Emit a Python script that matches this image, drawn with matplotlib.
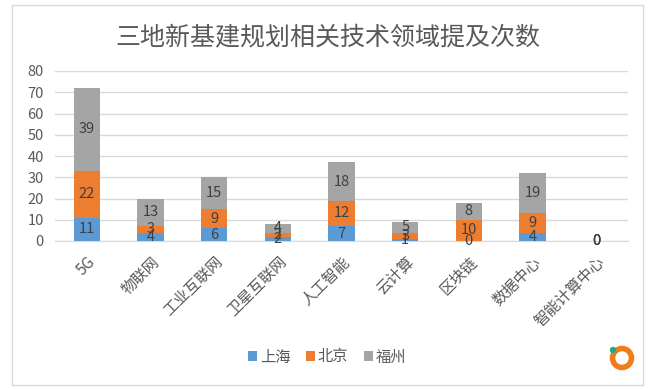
import matplotlib
matplotlib.use("Agg")
import matplotlib.pyplot as plt
from matplotlib.patches import Rectangle, Circle
import numpy as np

plt.rcParams['font.family'] = ['Noto Sans CJK SC', 'DejaVu Sans']

categories = ["5G", "物联网", "工业互联网", "卫星互联网", "人工智能", "云计算", "区块链", "数据中心", "智能计算中心"]
shanghai = [11, 4, 6, 2, 7, 1, 0, 4, 0]
beijing = [22, 3, 9, 2, 12, 3, 10, 9, 0]
fuzhou = [39, 13, 15, 4, 18, 5, 8, 19, 0]
series_names = ["上海", "北京", "福州"]
colors = ["#5B9BD5", "#ED7D31", "#A5A5A5"]
yticks = [0, 10, 20, 30, 40, 50, 60, 70, 80]

fig = plt.figure(figsize=(6.55, 3.89), dpi=100)
fig.patches.append(Rectangle((12/655, 1-385/389), (643-12)/655, (385-5)/389,
                             transform=fig.transFigure, fill=False, edgecolor="#D9D9D9", lw=1))
ax = fig.add_axes([55/655, 1-241/389, (628-55)/655, (241-71)/389])

x = np.arange(len(categories))
bottom = np.zeros(len(categories))
for name, vals, c in zip(series_names, [shanghai, beijing, fuzhou], colors):
    vals = np.array(vals, dtype=float)
    ax.bar(x, vals, width=0.41, bottom=bottom, color=c, label=name, zorder=3)
    for xi, v, b in zip(x, vals, bottom):
        ax.text(xi, b + v/2, f"{int(v)}", ha="center", va="center", fontsize=10.5,
                color="#404040", zorder=4)
    bottom += vals

ax.set_xlim(-0.5, len(categories) - 0.5)
ax.set_ylim(0, 80)
ax.set_yticks(yticks)
ax.grid(axis="y", color="#D9D9D9", lw=1, zorder=0)
for s in ["top", "right", "left"]:
    ax.spines[s].set_visible(False)
ax.spines["bottom"].set_color("#D9D9D9")
ax.tick_params(axis="both", length=0, colors="#595959", labelsize=10.5)
ax.tick_params(axis="y", pad=8)
ax.set_xticks(x)
ax.set_xticklabels(categories, rotation=45, ha="right", rotation_mode="anchor",
                   fontsize=11, fontweight="light")
ax.tick_params(axis="x", pad=9)

fig.text(0.5, 1-37/389, "三地新基建规划相关技术领域提及次数", ha="center", va="center",
         fontsize=18, color="#595959", fontweight="light")

fig.legend(loc="center", bbox_to_anchor=(327/655, 1-357/389), ncol=3, frameon=False,
           fontsize=11, handlelength=0.6, handleheight=0.6, handletextpad=0.2,
           columnspacing=1.0, labelcolor="#595959")

# logo ring
lax = fig.add_axes([0, 0, 1, 1], facecolor="none")
lax.set_xlim(0, 655); lax.set_ylim(389, 0); lax.axis("off")
lax.add_patch(Circle((622, 358), 9.5, fill=False, edgecolor="#F07D1A", lw=4))
lax.add_patch(Circle((613, 350), 2.5, color="#1AAE88"))

fig.savefig("out.png", dpi=100)
